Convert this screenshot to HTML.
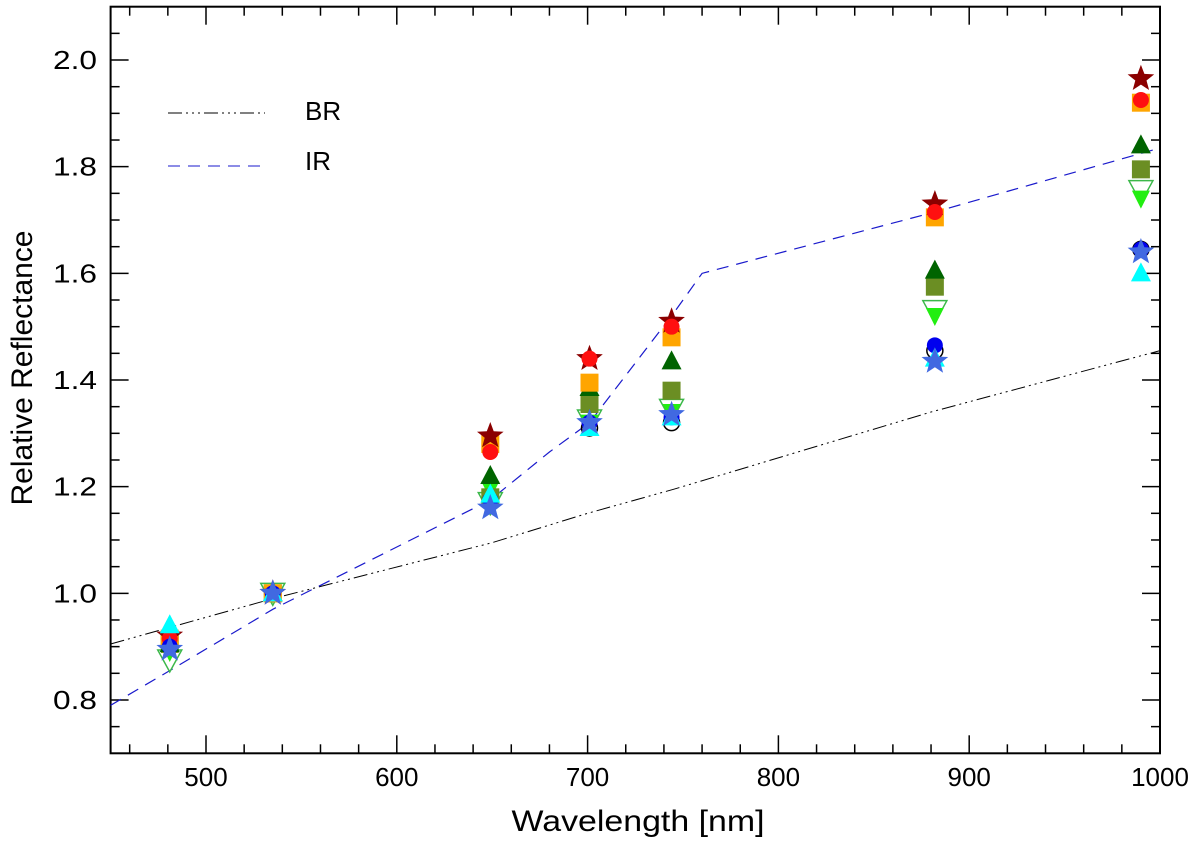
<!DOCTYPE html>
<html><head><meta charset="utf-8"><style>body{margin:0;background:#fff}svg{display:block;font-family:"Liberation Sans",sans-serif}</style></head>
<body>
<svg id="c" width="1200" height="844"></svg>
<script>
const wavelengths=[481,535,649,701,744,882,990];
const sDarkStar=[0.92,1.0,1.295,1.44,1.51,1.73,1.965];
const sRedCircle=[0.915,1.0,1.265,1.44,1.50,1.715,1.925];
const sOrangeSquare=[0.915,1.0,1.28,1.395,1.48,1.705,1.92];
const sGreenTri=[0.905,1.0,1.22,1.385,1.435,1.605,1.84];
const sOliveSquare=[0.905,1.0,1.18,1.355,1.38,1.575,1.795];
const sOpenDown=[0.875,1.0,1.17,1.325,1.345,1.53,1.755];
const sLimeDown=[0.89,1.0,1.195,1.32,1.34,1.52,1.74];
const sOpenCircle=[0.9,1.0,1.175,1.31,1.32,1.455,1.645];
const sBlueCircle=[0.9,1.0,1.175,1.32,1.33,1.465,1.645];
const sCyanTri=[0.94,1.0,1.185,1.31,1.33,1.44,1.60];
const sBlueStar=[0.895,1.0,1.16,1.32,1.335,1.435,1.64];
const brX=[450,535,650,700,745,880,1000];
const brY=[0.905,0.99,1.095,1.15,1.195,1.34,1.455];
const irX=[450,481,535,649,680,701,745,760,882,1000];
const irY=[0.79,0.855,0.97,1.175,1.265,1.32,1.525,1.6,1.715,1.835];
const xTicks=[500,600,700,800,900,1000];
const yTicks=[0.8,1.0,1.2,1.4,1.6,1.8,2.0];
const L=110.6,R=1160,T=6.7,B=753.3;
const X=v=>L+(v-450)/550*(R-L);
const Y=v=>B-(v-0.7)/1.4*(B-T);
const svg=document.getElementById('c');const NS='http://www.w3.org/2000/svg';
function mk(t,a,p){const e=document.createElementNS(NS,t);for(const k in a)e.setAttribute(k,a[k]);(p||svg).appendChild(e);return e;}
let g=mk('g',{});


mk('rect',{x:L,y:T,width:R-L,height:B-T,fill:'none',stroke:'#000','stroke-width':2},g);
for(let v=460;v<=1000;v+=20){const maj=v%100===0;const len=maj?18:9;
 mk('line',{x1:X(v),x2:X(v),y1:B,y2:B-len,stroke:'#000','stroke-width':1.5},g);
 mk('line',{x1:X(v),x2:X(v),y1:T,y2:T+len,stroke:'#000','stroke-width':1.5},g);}
for(let i=15;i<=41;i++){const v=i*0.05;const maj=i%4===0;const len=maj?18:9;
 mk('line',{x1:L,x2:L+len,y1:Y(v),y2:Y(v),stroke:'#000','stroke-width':1.5},g);
 mk('line',{x1:R,x2:R-len,y1:Y(v),y2:Y(v),stroke:'#000','stroke-width':1.5},g);}
xTicks.forEach(v=>{const t=mk('text',{x:X(v),y:786,'text-anchor':'middle','font-size':26},g);t.textContent=v;

});
yTicks.forEach(v=>{const t=mk('text',{x:97,y:Y(v)+9,'text-anchor':'end','font-size':26,textLength:44,lengthAdjust:'spacingAndGlyphs'},g);t.textContent=v.toFixed(1);

});
let xt=mk('text',{x:638,y:831,'text-anchor':'middle','font-size':30,textLength:253,lengthAdjust:'spacingAndGlyphs'});xt.textContent='Wavelength [nm]';


let yt=mk('text',{x:32,y:368,'text-anchor':'middle','font-size':30,textLength:275,lengthAdjust:'spacingAndGlyphs',transform:'rotate(-90 32 368)'});yt.textContent='Relative Reflectance';


function line(xs,ys,attrs,name){const d=xs.map((x,i)=>(i?'L':'M')+X(x)+','+Y(ys[i])).join('');const p=mk('path',Object.assign({d,fill:'none'},attrs));

}
line(brX,brY,{stroke:'#000','stroke-width':1,'stroke-dasharray':'14 4 2 4 2 4 2 4'},'br-line');
line(irX,irY,{stroke:'#1a1acc','stroke-width':1.2,'stroke-dasharray':'12 8'},'ir-line');
function star(cx,cy,r){let p=[];for(let i=0;i<10;i++){const a=-Math.PI/2+i*Math.PI/5;const rr=i%2?r*0.42:r;p.push((cx+rr*Math.cos(a)).toFixed(1)+','+(cy+rr*Math.sin(a)).toFixed(1));}return p.join(' ');}
function marker(type,cx,cy,fill,stroke,gp){
 if(type==='star')mk('polygon',{points:star(cx,cy,14),fill,stroke:stroke||'none'},gp);
 else if(type==='circle')mk('circle',{cx,cy,r:8,fill,stroke:stroke||'none','stroke-width':1.5},gp);
 else if(type==='square')mk('rect',{x:cx-9,y:cy-9,width:18,height:18,fill},gp);
 else if(type==='tri')mk('polygon',{points:`${cx},${cy-11} ${cx+10},${cy+8} ${cx-10},${cy+8}`,fill},gp);
 else if(type==='down')mk('polygon',{points:`${cx-12},${cy-10} ${cx+12},${cy-10} ${cx},${cy+12}`,fill,stroke:stroke||'none','stroke-width':1.5},gp);
 else if(type==='downsm')mk('polygon',{points:`${cx-9},${cy-8} ${cx+9},${cy-8} ${cx},${cy+10}`,fill},gp);}
const series=[
 ['open-circle-series',sOpenCircle,'circle','none','#000'],
 ['open-down-series',sOpenDown,'down','none','#3cb84a'],
 ['lime-down-series',sLimeDown,'downsm','#22ee11'],
 ['olive-square-series',sOliveSquare,'square','#6b8e23'],
 ['green-triangle-series',sGreenTri,'tri','#006400'],
 ['orange-square-series',sOrangeSquare,'square','#ffa500'],
 ['dark-red-star-series',sDarkStar,'star','#8b0000'],
 ['red-circle-series',sRedCircle,'circle','#ff1010'],
 ['blue-circle-series',sBlueCircle,'circle','#0000ee'],
 ['cyan-triangle-series',sCyanTri,'tri','#00ffff'],
 ['royal-blue-star-series',sBlueStar,'star','#4169e1']];
series.forEach(([name,vals,type,fill,stroke])=>{const gp=mk('g',{});
 
 
 vals.forEach((v,i)=>marker(type,X(wavelengths[i]),Y(v),fill,stroke,gp));});
let lg=mk('g',{});


mk('line',{x1:168,x2:265,y1:113,y2:113,stroke:'#000','stroke-dasharray':'14 4 2 4 2 4 2 4'},lg);
mk('line',{x1:168,x2:265,y1:166,y2:166,stroke:'#1a1acc','stroke-dasharray':'12 8'},lg);
let t1=mk('text',{x:305,y:113,'font-size':26,'dominant-baseline':'middle'},lg);t1.textContent='BR';


let t2=mk('text',{x:305,y:163,'font-size':26,'dominant-baseline':'middle'},lg);t2.textContent='IR';


</script>
</body></html>
